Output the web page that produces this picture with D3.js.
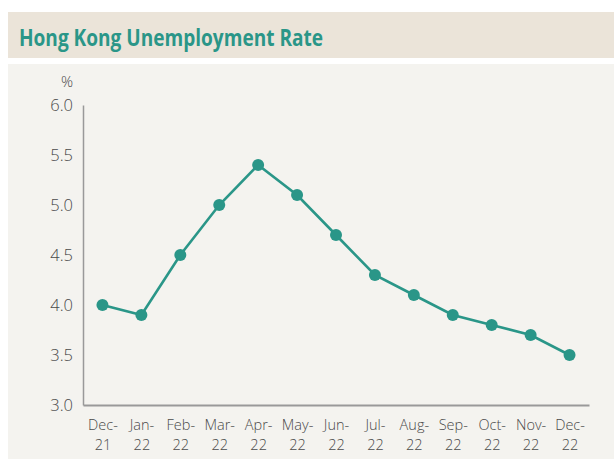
<!DOCTYPE html>
<html>
<head>
<meta charset="utf-8">
<script src="https://cdn.jsdelivr.net/npm/d3@7"></script>
<style>
  body { margin: 0; background: #fff; }
  svg { display: block; font-family: "Open Sans", sans-serif; }
</style>
</head>
<body>
<svg id="chart"></svg>
<script>
const months = ["Dec-21", "Jan-22", "Feb-22", "Mar-22", "Apr-22", "May-22", "Jun-22",
    "Jul-22", "Aug-22", "Sep-22", "Oct-22", "Nov-22", "Dec-22"];
const rates = [4.0, 3.9, 4.5, 5.0, 5.4, 5.1, 4.7, 4.3, 4.1, 3.9, 3.8, 3.7, 3.5];
const yTicks = [3.0, 3.5, 4.0, 4.5, 5.0, 5.5, 6.0];

const width = 614;
const height = 459;
const teal = "#2a9688";
const margin = { left: 83, right: 25, top: 105, bottom: 54 };

const svg = d3.select("#chart")
    .attr("width", width)
    .attr("height", height);

// title banner
svg.append("rect")
    .attr("x", 8).attr("y", 12)
    .attr("width", width - 8).attr("height", 46)
    .attr("fill", "#ebe4d9");
svg.append("text")
    .attr("x", 19).attr("y", 46)
    .attr("fill", teal)
    .attr("font-size", 22.5)
    .attr("font-weight", 700)
    .attr("textLength", 304)
    .attr("lengthAdjust", "spacingAndGlyphs")
    .text("Hong Kong Unemployment Rate");

// plot panel
svg.append("rect")
    .attr("x", 8).attr("y", 64)
    .attr("width", width - 8).attr("height", height - 64)
    .attr("fill", "#f4f3ef");

const x = d3.scalePoint()
    .domain(months)
    .range([margin.left, width - margin.right])
    .padding(0.5);

const y = d3.scaleLinear()
    .domain([3, 6])
    .range([height - margin.bottom, margin.top]);

const yAxis = svg.append("g")
    .attr("transform", `translate(${margin.left},0)`)
    .call(d3.axisLeft(y).tickValues(yTicks).tickFormat(d3.format(".1f")).tickSize(0).tickPadding(10));
yAxis.select(".domain").attr("stroke", "#999").attr("stroke-width", 1.5);
yAxis.selectAll("text").attr("font-size", 16.5).attr("fill", "#4a4a4a").attr("font-family", "Open Sans").attr("font-weight", 300);

svg.append("text")
    .attr("x", 67).attr("y", 87)
    .attr("text-anchor", "middle")
    .attr("font-size", 15)
    .attr("font-weight", 300)
    .attr("fill", "#4a4a4a")
    .text("%");

const xAxis = svg.append("g")
    .attr("transform", `translate(0,${height - margin.bottom})`)
    .call(d3.axisBottom(x).tickSize(0).tickFormat(""));
xAxis.select(".domain").attr("stroke", "#999").attr("stroke-width", 2);
xAxis.selectAll(".tick").each(function(d) {
    const parts = d.split("-");
    const t = d3.select(this).append("text")
        .attr("text-anchor", "middle")
        .attr("fill", "#4a4a4a")
        .attr("font-size", 14.5)
        .attr("font-weight", 300)
        .attr("font-family", "Open Sans");
    t.append("tspan").attr("x", 0).attr("y", 25).text(parts[0] + "-");
    t.append("tspan").attr("x", 0).attr("y", 45).text(parts[1]);
});

const line = d3.line()
    .x((d, i) => x(months[i]))
    .y(d => y(d));

svg.append("path")
    .datum(rates)
    .attr("fill", "none")
    .attr("stroke", teal)
    .attr("stroke-width", 2.6)
    .attr("d", line);

svg.selectAll("circle.pt")
    .data(rates)
    .enter().append("circle")
    .attr("class", "pt")
    .attr("cx", (d, i) => x(months[i]))
    .attr("cy", d => y(d))
    .attr("r", 6)
    .attr("fill", teal);
</script>
</body>
</html>
